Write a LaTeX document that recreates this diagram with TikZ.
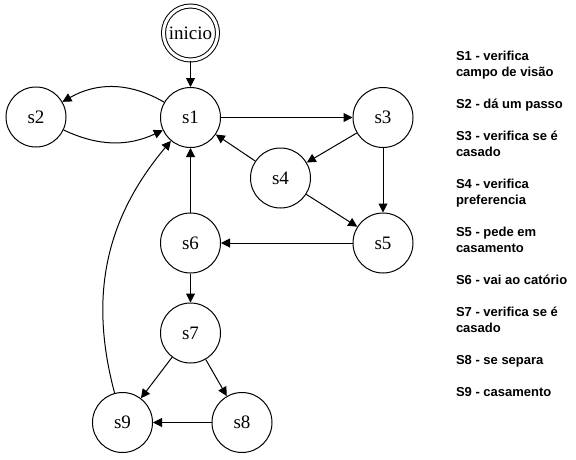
\documentclass[tikz,border=0pt]{standalone}
\usepackage{fontspec}
\setmainfont{Liberation Serif}
\newfontfamily\legendafont{Liberation Sans}
\usetikzlibrary{arrows.meta}

\begin{document}
\begin{tikzpicture}[x=1pt,y=-1pt,line width=1pt,
	estado/.style={draw,circle,minimum size=60pt,inner sep=0pt,font=\fontsize{19}{19}\selectfont},
	trans/.style={-{Triangle[length=9pt,width=9pt]}},
	legenda/.style={anchor=base west,inner sep=0pt,align=left,font=\legendafont\bfseries\fontsize{13}{16}\selectfont}]
				\useasboundingbox (0,0) rectangle (576,459);
				\node[estado,double,double distance=3pt,minimum size=54pt] (inicio) at (190.5,33) {inicio};
				\node[estado] (s1) at (190.5,117.5) {s1};
				\node[estado] (s2) at (36,117) {s2};
				\node[estado] (s3) at (383,117.5) {s3};
				\node[estado] (s4) at (280.5,178) {s4};
				\node[estado] (s5) at (383,243) {s5};
				\node[estado] (s6) at (190.5,243) {s6};
				\node[estado] (s7) at (190.5,333) {s7};
				\node[estado] (s8) at (242,422.5) {s8};
				\node[estado] (s9) at (122.5,422.5) {s9};
				\draw[trans] (inicio)--(s1);
				\draw[trans] (s1) to[bend right=30] (s2);
				\draw[trans] (s2) to[bend right=25] (s1);
				\draw[trans] (s1)--(s3);
				\draw[trans] (s3)--(s4);
				\draw[trans] (s4)--(s1);
				\draw[trans] (s3)--(s5);
				\draw[trans] (s4)--(s5);
				\draw[trans] (s5)--(s6);
				\draw[trans] (s6)--(s1);
				\draw[trans] (s6)--(s7);
				\draw[trans] (s7)--(s9);
				\draw[trans] (s7)--(s8);
				\draw[trans] (s8)--(s9);
				\draw[trans] (s9) to[out=105,in=230] (s1);
				\foreach \i/\y/\txt in {1/76/{S1 - verifica\\campo de visão},2/108/{S2 - dá um passo},
					3/156/{S3 - verifica se é\\casado},4/204/{S4 - verifica\\preferencia},
					5/252/{S5 - pede em\\casamento},6/284/{S6 - vai ao catório},
					7/332/{S7 - verifica se é\\casado},8/364/{S8 - se separa},9/396/{S9 - casamento}}
					\node[legenda] (l\i) at (455.5,\y) {\txt};
			\end{tikzpicture}
\end{document}
